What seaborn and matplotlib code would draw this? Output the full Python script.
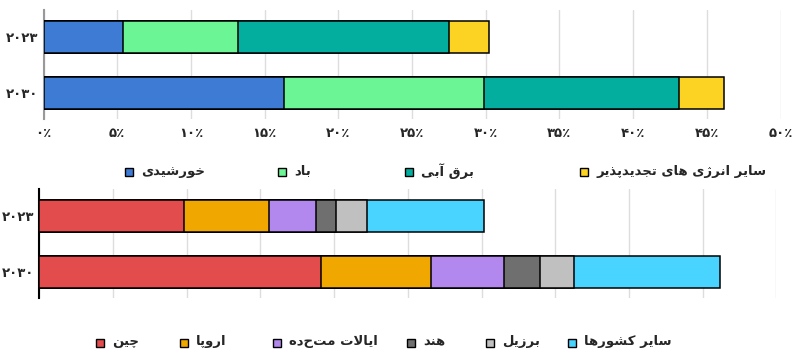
import numpy as np
import pandas as pd
import seaborn as sns
import matplotlib.pyplot as plt
from matplotlib.patches import Rectangle

# data (percent)
years = ['۲۰۲۳', '۲۰۳۰']

source_names = ['خورشیدی', 'باد', 'برق آبی', 'سایر انرژی های تجدیدپذیر']
source_2023 = [5.4, 7.8, 14.3, 2.7]
source_2030 = [16.3, 13.6, 13.2, 3.1]
source_colors = ['#3d7bd4', '#6cf594', '#03ae9f', '#fdd323']

country_names = ['چین', 'اروپا', 'ایالات متحده', 'هند', 'برزیل', 'سایر کشورها']
country_2023 = [9.8, 5.8, 3.2, 1.3, 2.1, 8.0]
country_2030 = [19.1, 7.5, 4.9, 2.5, 2.3, 9.9]
country_colors = ['#e34c4c', '#f0a800', '#b388ee', '#6e6f6e', '#c0c0c0', '#49d3ff']

x_ticks = [0, 5, 10, 15, 20, 25, 30, 35, 40, 45, 50]
x_tick_labels = ['۰٪', '۵٪', '۱۰٪', '۱۵٪', '۲۰٪', '۲۵٪', '۳۰٪', '۳۵٪', '۴۰٪', '۴۵٪', '۵۰٪']

# matplotlib has no arabic shaping, so pick presentation forms by hand
FORMS = {
    'ا': ('\uFE8D', '\uFE8E', None, None), 'آ': ('\uFE81', '\uFE82', None, None),
    'ب': ('\uFE8F', '\uFE90', '\uFE91', '\uFE92'), 'پ': ('\uFB56', '\uFB57', '\uFB58', '\uFB59'),
    'ت': ('\uFE95', '\uFE96', '\uFE97', '\uFE98'), 'ج': ('\uFE9D', '\uFE9E', '\uFE9F', '\uFEA0'),
    'چ': ('\uFB7A', '\uFB7B', '\uFB7C', '\uFB7D'), 'خ': ('\uFEA5', '\uFEA6', '\uFEA7', '\uFEA8'),
    'د': ('\uFEA9', '\uFEAA', None, None), 'ذ': ('\uFEAB', '\uFEAC', None, None),
    'ر': ('\uFEAD', '\uFEAE', None, None), 'ز': ('\uFEAF', '\uFEB0', None, None),
    'ژ': ('\uFB8A', '\uFB8B', None, None), 'س': ('\uFEB1', '\uFEB2', '\uFEB3', '\uFEB4'),
    'ش': ('\uFEB5', '\uFEB6', '\uFEB7', '\uFEB8'), 'ق': ('\uFED5', '\uFED6', '\uFED7', '\uFED8'),
    'ک': ('\uFB8E', '\uFB8F', '\uFB90', '\uFB91'), 'ل': ('\uFEDD', '\uFEDE', '\uFEDF', '\uFEE0'),
    'م': ('\uFEE1', '\uFEE2', '\uFEE3', '\uFEE4'), 'ن': ('\uFEE5', '\uFEE6', '\uFEE7', '\uFEE8'),
    'ه': ('\uFEE9', '\uFEEA', '\uFEEB', '\uFEEC'), 'و': ('\uFEED', '\uFEEE', None, None),
    'ی': ('\uFBFC', '\uFBFD', '\uFBFE', '\uFBFF'),
}


def joins_next(c):
    return c in FORMS and FORMS[c][2] is not None


def shape(text):
    out = []
    i = 0
    while i < len(text):
        c = text[i]
        prev = text[i - 1] if i > 0 else ''
        nxt = text[i + 1] if i + 1 < len(text) else ''
        if c not in FORMS:
            out.append(c)
            i += 1
            continue
        p = joins_next(prev)
        if c == 'ل' and nxt == 'ا':
            out.append('\uFEFC' if p else '\uFEFB')
            i += 2
            continue
        n = joins_next(c) and nxt in FORMS
        iso, fin, ini, med = FORMS[c]
        if p and n:
            out.append(med)
        elif p:
            out.append(fin)
        elif n:
            out.append(ini)
        else:
            out.append(iso)
        i += 1
    return ''.join(reversed(out))


sns.set_theme(style='white')
plt.rcParams['font.family'] = ['DejaVu Sans']
plt.rcParams['font.weight'] = 'bold'

fig = plt.figure(figsize=(8.05, 3.57), dpi=100)
W, H = 805, 357


def stacked(ax, v23, v30, colors):
    cum23 = np.cumsum(v23)
    cum30 = np.cumsum(v30)
    for k in reversed(range(len(colors))):
        d = pd.DataFrame({'year': years, 'value': [cum23[k], cum30[k]]})
        sns.barplot(data=d, x='value', y='year', orient='h', order=years,
                    color=colors[k], saturation=1, width=0.57,
                    edgecolor='black', linewidth=1.1, ax=ax, zorder=3)
    ax.set_xlim(0, 50)
    ax.set_ylim(1.47, -0.49)
    ax.set_xticks(x_ticks)
    ax.grid(axis='x', color='#dddddd', linewidth=1, zorder=0)
    ax.set_axisbelow(True)
    ax.set_xlabel('')
    ax.set_ylabel('')
    for s in ['top', 'right', 'bottom']:
        ax.spines[s].set_visible(False)
    ax.tick_params(axis='both', length=0, labelsize=9.5)
    ax.tick_params(axis='y', pad=4)
    for t in ax.get_yticklabels():
        t.set_fontweight('bold')


def legend_row(names, colors, xs, y):
    for name, col, x in zip(names, colors, xs):
        fig.add_artist(Rectangle((x / W, (H - y - 4) / H), 8 / W, 8 / H,
                                 transform=fig.transFigure, facecolor=col,
                                 edgecolor='black', linewidth=1))
        fig.text((x + 16) / W, (H - y + 1) / H, shape(name), ha='left', va='center',
                 fontsize=9.5, fontweight='bold')


ax1 = fig.add_axes([43.5 / W, (H - 119) / H, 737 / W, 109 / H])
stacked(ax1, source_2023, source_2030, source_colors)
ax1.set_xticklabels(x_tick_labels, fontweight='bold')
ax1.tick_params(axis='x', pad=6)
ax1.spines['left'].set_color('#999999')
ax1.spines['left'].set_linewidth(1.5)

ax2 = fig.add_axes([39.3 / W, (H - 298) / H, 737 / W, 109 / H])
stacked(ax2, country_2023, country_2030, country_colors)
ax2.set_xticklabels([])
ax2.spines['left'].set_color('black')
ax2.spines['left'].set_linewidth(1.5)

legend_row(source_names, source_colors, [125, 278, 405, 580], 172)
legend_row(country_names, country_colors, [96, 180, 273, 407, 486, 568], 343)

fig.savefig('out.png', dpi=100)
